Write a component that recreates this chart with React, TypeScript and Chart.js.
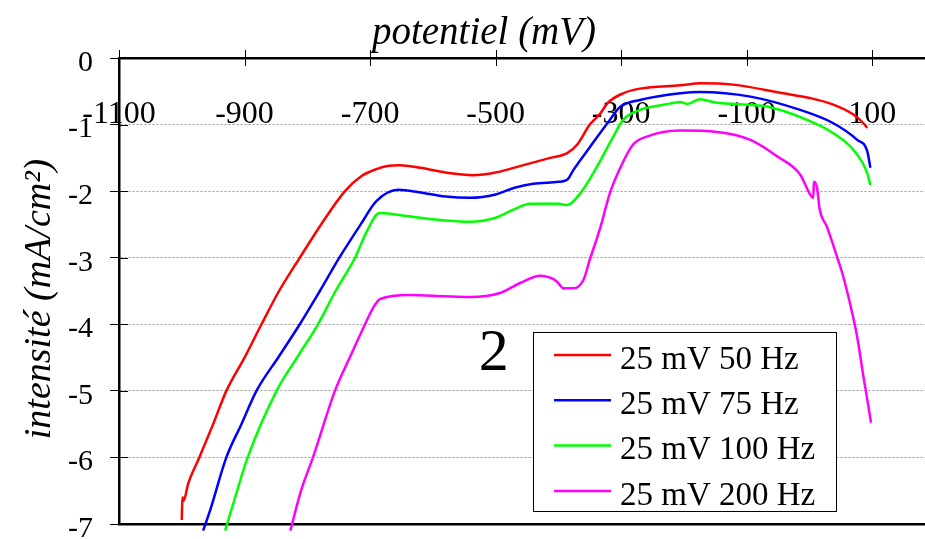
import { useEffect, useRef } from "react";
import { Chart, registerables } from "chart.js";

Chart.register(...registerables);

const FONT = "'Liberation Serif', 'Times New Roman', Times, serif";

// Axis
const xTickValues = [-1100, -900, -700, -500, -300, -100, 100];
const xMin = -1100;
const xMax = 184;
const yMin = -7;
const yMax = 0;

const xTitle = "potentiel (mV)";
const yTitle = "intensité (mA/cm²)";
const panelLabel = "2";

const seriesLabels = ["25 mV 50 Hz", "25 mV 75 Hz", "25 mV 100 Hz", "25 mV 200 Hz"];
const seriesColors = ["#ff0000", "#0000ff", "#00ff00", "#ff00ff"];

// 25 mV 50 Hz
const hz50X = [-1000, -999, -997, -990, -972, -950, -929, -900, -873, -845, -812, -778, -740, -713, -690, -670, -653, -620, -580, -536, -500, -460, -413, -386, -370, -350, -333, -322, -297, -270, -206, -174, -122, -42, 0, 38, 70, 86, 92];
const hz50Y = [-6.94, -6.6, -6.65, -6.4, -6.0, -5.5, -5.0, -4.5, -4.0, -3.5, -3.0, -2.5, -2.0, -1.77, -1.67, -1.62, -1.61, -1.65, -1.72, -1.76, -1.72, -1.62, -1.5, -1.43, -1.3, -1.0, -0.83, -0.68, -0.53, -0.46, -0.41, -0.38, -0.4, -0.53, -0.6, -0.7, -0.85, -0.98, -1.05];

// 25 mV 75 Hz
const hz75X = [-966, -955, -929, -905, -881, -845, -812, -780, -749, -715, -690, -655, -620, -580, -541, -500, -470, -440, -400, -386, -376, -350, -322, -301, -270, -206, -174, -94, -15, 38, 76, 92, 97];
const hz75Y = [-7.1, -6.8, -6.0, -5.5, -5.0, -4.48, -4.0, -3.5, -3.0, -2.5, -2.15, -1.98, -2.02, -2.08, -2.1, -2.05, -1.95, -1.89, -1.86, -1.83, -1.68, -1.34, -0.98, -0.73, -0.63, -0.53, -0.51, -0.58, -0.78, -0.98, -1.23, -1.4, -1.65];

// 25 mV 100 Hz
const hz100X = [-931, -915, -895, -849, -815, -783, -755, -724, -705, -685, -660, -620, -580, -541, -500, -470, -445, -400, -386, -365, -339, -313, -297, -270, -230, -206, -195, -174, -150, -68, -4, 38, 70, 92, 97];
const hz100Y = [-7.1, -6.6, -6.0, -5.0, -4.48, -4.0, -3.5, -3.0, -2.6, -2.33, -2.35, -2.4, -2.44, -2.46, -2.4, -2.27, -2.19, -2.19, -2.21, -2.03, -1.64, -1.19, -0.93, -0.78, -0.7, -0.66, -0.69, -0.62, -0.67, -0.73, -0.93, -1.13, -1.38, -1.73, -1.91];

// 25 mV 200 Hz
const hz200X = [-827, -810, -791, -756, -730, -708, -695, -684, -637, -580, -541, -493, -461, -429, -413, -402, -392, -376, -360, -350, -333, -318, -301, -281, -259, -206, -147, -94, -51, -15, 1, 6, 7, 12, 16, 28, 44, 54, 68, 76, 86, 94, 98];
const hz200Y = [-7.1, -6.5, -6.0, -5.0, -4.45, -4.0, -3.75, -3.62, -3.56, -3.58, -3.59, -3.53, -3.38, -3.27, -3.3, -3.36, -3.46, -3.46, -3.33, -3.03, -2.54, -2.03, -1.64, -1.3, -1.18, -1.09, -1.11, -1.23, -1.48, -1.75, -2.05, -2.1, -1.86, -1.95, -2.26, -2.54, -2.99, -3.29, -3.83, -4.19, -4.79, -5.24, -5.48];

const seriesX = [hz50X, hz75X, hz100X, hz200X];
const seriesY = [hz50Y, hz75Y, hz100Y, hz200Y];

const decorations = {
  id: "decorations",
  beforeDatasetsDraw(chart: any) {
    const { ctx, chartArea } = chart;
    const xs = chart.scales.x;
    const ys = chart.scales.y;
    ctx.save();
    ctx.strokeStyle = "#000";
    ctx.lineWidth = 1;
    for (const v of xTickValues) {
      const px = Math.round(xs.getPixelForValue(v)) + 0.5;
      ctx.beginPath();
      ctx.moveTo(px, chartArea.top - 8);
      ctx.lineTo(px, chartArea.top + 8);
      ctx.stroke();
    }
    for (let v = yMax; v >= yMin; v--) {
      const py = Math.round(ys.getPixelForValue(v)) + 0.5;
      ctx.beginPath();
      ctx.moveTo(chartArea.left, py);
      ctx.lineTo(chartArea.left + 9, py);
      ctx.stroke();
    }
    ctx.fillStyle = "#000";
    ctx.font = `32px ${FONT}`;
    ctx.textAlign = "center";
    ctx.textBaseline = "alphabetic";
    for (const v of xTickValues) {
      ctx.fillText(String(v), xs.getPixelForValue(v), chartArea.top + 65);
    }
    ctx.restore();
  },
  afterDatasetsDraw(chart: any) {
    const { ctx } = chart;
    const xs = chart.scales.x;
    const ys = chart.scales.y;
    ctx.save();
    ctx.fillStyle = "#000";
    // x title (top)
    ctx.font = `italic 39px ${FONT}`;
    ctx.textAlign = "center";
    ctx.textBaseline = "alphabetic";
    ctx.fillText(xTitle, 484, 44);
    // y title
    ctx.save();
    ctx.translate(40, 299);
    ctx.rotate(-Math.PI / 2);
    ctx.font = `italic 38px ${FONT}`;
    ctx.textBaseline = "middle";
    ctx.fillText(yTitle, 0, 0);
    ctx.restore();
    // panel label
    ctx.font = `60px ${FONT}`;
    ctx.textAlign = "center";
    ctx.textBaseline = "alphabetic";
    ctx.fillText(panelLabel, xs.getPixelForValue(-503), ys.getPixelForValue(-4.69));
    // legend
    const bx = 533, by = 332, bw = 303, bh = 179;
    ctx.fillStyle = "#fff";
    ctx.fillRect(bx, by, bw, bh);
    ctx.strokeStyle = "#000";
    ctx.lineWidth = 1;
    ctx.strokeRect(bx + 0.5, by + 0.5, bw, bh);
    ctx.font = `33px ${FONT}`;
    ctx.textAlign = "left";
    ctx.textBaseline = "middle";
    chart.data.datasets.forEach((ds: any, i: number) => {
      const ly = by + 23 + i * 45.3;
      ctx.strokeStyle = ds.borderColor;
      ctx.lineWidth = 2.5;
      ctx.beginPath();
      ctx.moveTo(554, ly);
      ctx.lineTo(611, ly);
      ctx.stroke();
      ctx.fillStyle = "#000";
      ctx.fillText(ds.label, 620, ly + 5);
    });
    ctx.restore();
  },
};

export default function App() {
  const canvasRef = useRef<HTMLCanvasElement | null>(null);

  useEffect(() => {
    if (!canvasRef.current) return;
    const datasets = seriesLabels.map((label, i) => ({
      label,
      data: seriesX[i].map((x, j) => ({ x, y: seriesY[i][j] })),
      borderColor: seriesColors[i],
      backgroundColor: seriesColors[i],
      borderWidth: 2.5,
      pointRadius: 0,
      cubicInterpolationMode: "monotone",
      fill: false,
      clip: false as any,
    }));
    const chart = new Chart(canvasRef.current, {
      type: "line",
      data: { datasets },
      plugins: [decorations],
      options: {
        animation: false,
        responsive: true,
        maintainAspectRatio: false,
        layout: { padding: 0 },
        plugins: {
          legend: { display: false },
          title: { display: false },
          tooltip: { enabled: false },
        },
        scales: {
          x: {
            type: "linear",
            position: "top",
            min: xMin,
            max: xMax,
            ticks: { display: false },
            grid: { display: false, drawTicks: false },
            border: { display: true, color: "#000", width: 2.5 },
            afterFit: (s: any) => {
              s.height = 58;
              s.paddingLeft = 0;
              s.paddingRight = 0;
            },
          },
          x2: {
            type: "linear",
            position: "bottom",
            display: true,
            min: xMin,
            max: xMax,
            ticks: { display: false },
            grid: { display: false, drawTicks: false },
            border: { display: true, color: "#000", width: 2.5 },
            afterFit: (s: any) => {
              s.height = 15;
              s.paddingLeft = 0;
              s.paddingRight = 0;
            },
          },
          y: {
            type: "linear",
            min: yMin,
            max: yMax,
            ticks: {
              stepSize: 1,
              color: "#000",
              padding: 17,
              labelOffset: 5,
              font: { family: FONT, size: 30 },
            },
            grid: {
              color: "#999",
              lineWidth: 1,
              drawTicks: true,
              tickLength: 9,
              tickColor: "#000",
              tickWidth: 1,
            },
            border: { display: true, color: "#000", width: 2.5, dash: [2, 2] },
            afterFit: (s: any) => {
              s.width = 119;
              s.paddingTop = 0;
              s.paddingBottom = 0;
            },
          },
        },
      } as any,
    });
    return () => chart.destroy();
  }, []);

  return (
    <div style={{ position: "fixed", left: 0, top: 0, width: 925, height: 539, background: "#fff" }}>
      <canvas ref={canvasRef} />
    </div>
  );
}
